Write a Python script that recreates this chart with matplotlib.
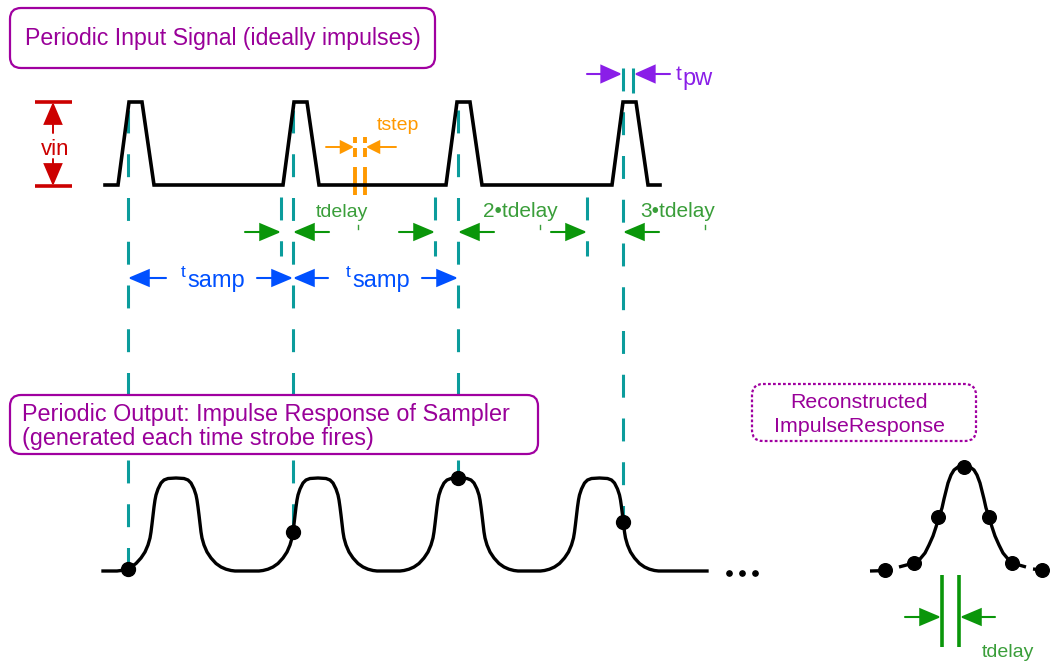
import numpy as np
import matplotlib
matplotlib.use("Agg")
from matplotlib import pyplot as plt
from matplotlib.patches import FancyBboxPatch

plt.rcParams['font.family'] = ['Liberation Sans', 'DejaVu Sans']
plt.rcParams['lines.scale_dashes'] = False

# --- diagram values (pixel units of the 1050x662 canvas) ---
# input pulses
pulse_start = [118, 283, 446, 612]
pulse_off = [0, 11, 24, 36]
pulse_lvl = [185, 102, 102, 185]
in_left, in_right = 105, 660

# strobe times and where each strobe line ends on the output curve
strobe_x = [128, 293, 458, 623]
strobe_top = [110, 110, 110, 68]
strobe_bot = [569, 532, 478, 522]
delay_x = [281, 435, 587]

# output bumps
base_y = 571
bump_center = [176, 318, 459, 599.5]
prof_dx = [0, 8, 12, 15, 18, 20, 21, 22, 23, 24, 25, 26, 28, 31, 35, 40, 45, 50, 55, 59]
prof_h = [93, 92.5, 91, 88, 82, 76, 71, 64, 56, 47, 39, 33, 26, 19, 13, 7.5, 4, 1.8, 0.5, 0]
out_left, out_right = 103, 707
dots_x = [729, 742, 755]

# reconstructed response
rec_center = 964
rec_dx = [0, 6, 10, 13, 16, 18, 20, 22, 25, 28, 31, 35, 39, 44, 50]
rec_h = [105, 104, 101, 96, 88, 80, 72, 63, 54, 44, 35, 26, 18, 12, 8]
rec_pts_x = [885, 914, 938, 964, 989, 1012, 1042]
rec_pts_y = [570, 563, 517, 467, 517, 563, 570]
rec_seg = [(870, 571, 889, 570.5), (899, 567, 914, 563),
           (1012, 563, 1026, 567), (1033, 569, 1042, 570)]

teal = '#0b9c9c'
green = '#0a960a'
green_txt = '#3a9e3a'
blue = '#0050ff'
orange = '#ff9900'
purple = '#8a1ee8'
red = '#cc0000'
magenta = '#a000a0'

fig = plt.figure(figsize=(10.5, 6.62), dpi=100)
ax = fig.add_axes([0, 0, 1, 1])
ax.set_xlim(0, 1050)
ax.set_ylim(662, 0)
ax.axis('off')


def arrow(x0, y0, x1, y1, color, hl=13, hw=5.5, lw=1.5):
    ax.annotate('', xy=(x1, y1), xytext=(x0, y0),
                arrowprops=dict(arrowstyle=f'-|>,head_length={hl},head_width={hw}',
                                color=color, lw=lw, shrinkA=0, shrinkB=0,
                                mutation_scale=1, joinstyle='miter'))


# strobe lines
for x, y0, y1 in zip(strobe_x, strobe_top, strobe_bot):
    ax.plot([x, x], [y0, y1], color=teal, lw=2.2, dashes=(16.5, 15),
            dash_capstyle='butt', zorder=1)
for x in delay_x:
    ax.plot([x, x], [197, 256], color=teal, lw=2.2, dashes=(16.5, 15),
            dash_capstyle='butt', zorder=1)
ax.plot([633, 633], [68, 93], color=teal, lw=2.2, solid_capstyle='butt')

# input signal
in_x = [in_left]
in_y = [185]
for s in pulse_start:
    for o, lv in zip(pulse_off, pulse_lvl):
        in_x.append(s + o)
        in_y.append(lv)
in_x.append(in_right)
in_y.append(185)
ax.plot(in_x, in_y, color='black', lw=2.6, solid_joinstyle='miter', zorder=3)

# output signal
out_x = [out_left]
out_y = [base_y]
for c in bump_center:
    for dx, h in zip(prof_dx[::-1], prof_h[::-1]):
        out_x.append(c - dx)
        out_y.append(base_y - h)
    for dx, h in zip(prof_dx[1:], prof_h[1:]):
        out_x.append(c + dx)
        out_y.append(base_y - h)
out_x.append(out_right)
out_y.append(base_y)
ax.plot(out_x, out_y, color='black', lw=2.4, solid_joinstyle='round', zorder=3)
ax.plot(strobe_x, strobe_bot, 'o', color='black', ms=10, zorder=5)
ax.plot(dots_x, [573] * 3, 'o', color='black', ms=3.8, zorder=5)

# reconstructed response
rx = [rec_center - d for d in rec_dx[::-1]] + [rec_center + d for d in rec_dx[1:]]
ry = [base_y - h for h in rec_h[::-1]] + [base_y - h for h in rec_h[1:]]
ax.plot(rx, ry, color='black', lw=2.4, solid_joinstyle='round', zorder=3)
for xa, ya, xb, yb in rec_seg:
    ax.plot([xa, xb], [ya, yb], color='black', lw=2.4, solid_capstyle='butt', zorder=3)
ax.plot(rec_pts_x, rec_pts_y, 'o', color='black', ms=9.8, zorder=5)

# boxes
boxes = [(10, 8, 425, 60, '-'), (10, 395, 528, 59, '-'), (752, 384, 224, 57, (0, (2, 1.6)))]
for bx, by, bw, bh, ls in boxes:
    ax.add_patch(FancyBboxPatch((bx, by), bw, bh, boxstyle='round,pad=0,rounding_size=11',
                                fc='white', ec=magenta, lw=1.6, ls=ls, zorder=4))
ax.text(25, 45, 'Periodic Input Signal (ideally impulses)', color='#990099',
        fontsize=16.7, va='baseline', zorder=6)
ax.text(22, 420.5, 'Periodic Output: Impulse Response of Sampler', color='#990099',
        fontsize=16.8, va='baseline', zorder=6)
ax.text(22, 445.5, '(generated each time strobe fires)', color='#990099',
        fontsize=16.8, va='baseline', zorder=6)
ax.text(859, 408, 'Reconstructed', color='#990099', fontsize=15.4,
        ha='center', va='baseline', zorder=6)
ax.text(859, 432, 'ImpulseResponse', color='#990099', fontsize=15.4,
        ha='center', va='baseline', zorder=6)

# vin marker
ax.plot([35, 72], [102, 102], color=red, lw=2.6, solid_capstyle='butt')
ax.plot([35, 72], [186, 186], color=red, lw=2.6, solid_capstyle='butt')
arrow(53, 133, 53, 102, red, hl=14, hw=6, lw=1.4)
arrow(53, 159, 53, 186, red, hl=14, hw=6, lw=1.4)
ax.text(41, 155, 'vin', color=red, fontsize=16, va='baseline')

# tstep marker
for x in [355, 365]:
    for y0, y1 in [(137, 143), (148, 157), (167, 195)]:
        ax.plot([x, x], [y0, y1], color=orange, lw=2.8, solid_capstyle='butt')
arrow(326, 147, 354, 147, orange, hl=8, hw=4, lw=1.4)
arrow(396, 147, 366, 147, orange, hl=8, hw=4, lw=1.4)
ax.text(377, 130, 'tstep', color=orange, fontsize=14, va='baseline')

# tpw marker
arrow(587, 74, 622, 74, purple, hl=13, hw=5.8, lw=1.5)
arrow(670, 74, 634, 74, purple, hl=13, hw=5.8, lw=1.5)
ax.text(676, 80, 't', color=purple, fontsize=15, va='baseline')
ax.text(682, 85, 'pw', color=purple, fontsize=17, va='baseline')

# tdelay markers
for xr, xl in zip(delay_x, strobe_x[1:]):
    arrow(xr - 36, 232, xr, 232, green)
    arrow(xl + 36, 232, xl, 232, green)
ax.text(316, 217, 'tdelay', color=green_txt, fontsize=14, va='baseline')
ax.text(483, 217, '2•tdelay', color=green_txt, fontsize=15, va='baseline')
ax.text(640, 217, '3•tdelay', color=green_txt, fontsize=15, va='baseline')
for x in [358, 540, 705]:
    ax.plot([x, x], [225, 229], color=green_txt, lw=1)

# tsamp markers
arrow(166, 278, 128, 278, blue)
arrow(257, 278, 293, 278, blue)
arrow(328, 278, 293, 278, blue)
arrow(422, 278, 458, 278, blue)
for xt in [181, 346]:
    ax.text(xt, 277, 't', color=blue, fontsize=12.5, va='baseline')
    ax.text(xt + 6.5, 287, 'samp', color=blue, fontsize=17, va='baseline')

# reconstructed tdelay
for x in [942, 959]:
    ax.plot([x, x], [575, 647], color=green, lw=2.6, solid_capstyle='butt')
arrow(905, 617, 941, 617, green)
arrow(995, 617, 960, 617, green)
ax.text(982, 657, 'tdelay', color=green_txt, fontsize=14, va='baseline')

fig.savefig('out.png', dpi=100)
